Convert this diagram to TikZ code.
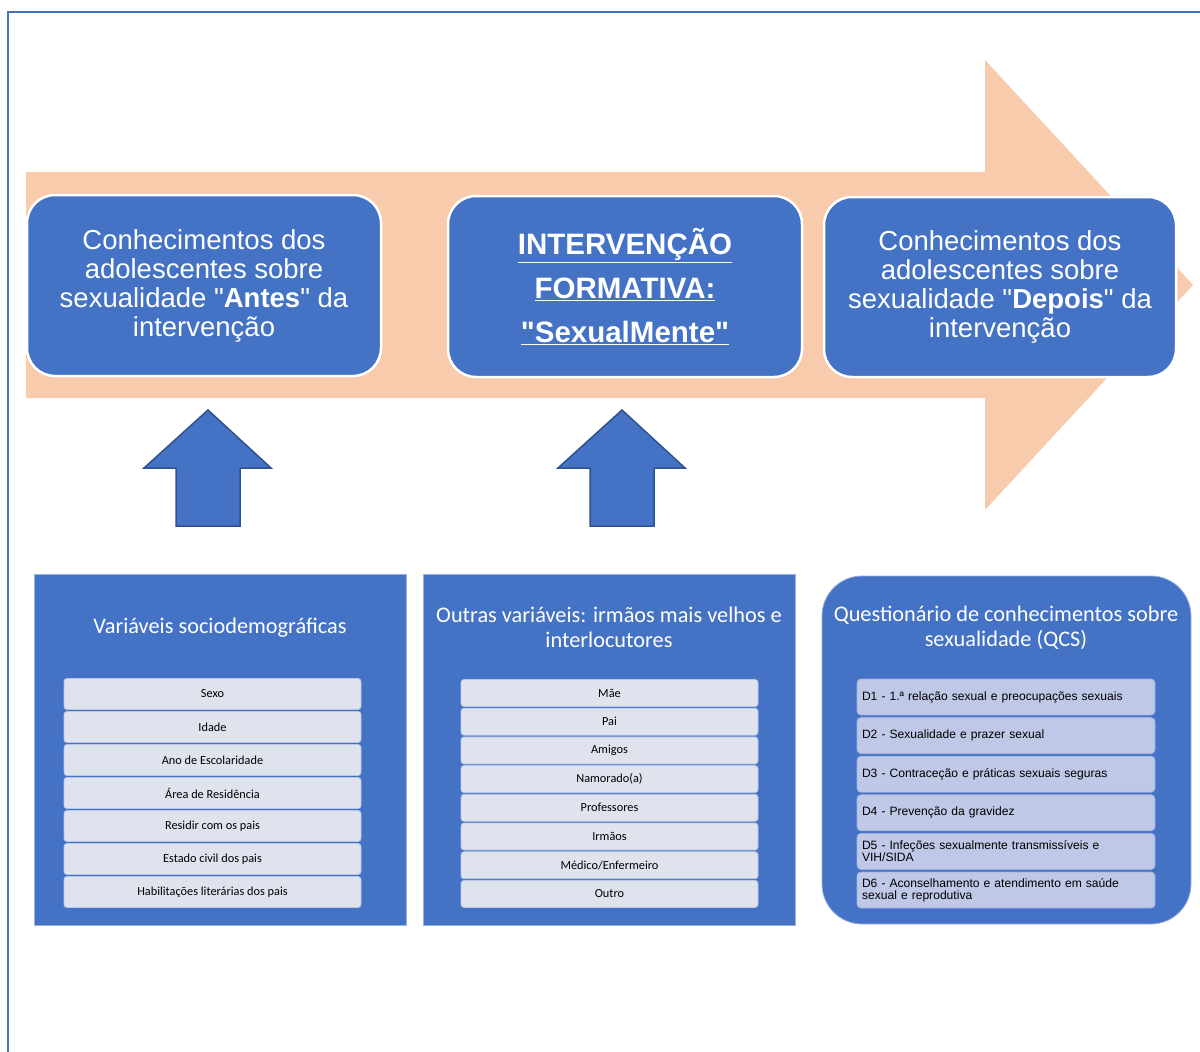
\documentclass[tikz,border=0pt]{standalone}
\usepackage{fontspec}
\setmainfont{Liberation Sans}
\newfontfamily\calibri{Carlito}
\usepackage{tikz}
\definecolor{boxblue}{HTML}{4472C4}
\definecolor{darkblue}{HTML}{2F528F}
\definecolor{peach}{HTML}{F8CBAD}
\definecolor{itemgrey}{HTML}{DEE3EE}
\definecolor{itemlilac}{HTML}{BFC8E6}
\newcommand{\qq}{\textquotedbl}
\tikzset{
  stage/.style={draw=white, line width=2.5pt, fill=boxblue, rounded corners=28pt,
    minimum width=354pt, minimum height=181pt, inner sep=0pt, text=white, align=center,
    font=\fontsize{27.5}{29}\selectfont},
  panel/.style={fill=boxblue, draw=boxblue!55!white, line width=0.8pt,
    minimum width=372pt, minimum height=351pt, inner sep=0pt},
  ptitle/.style={text=white, align=center, font=\calibri\fontsize{22.3}{25}\selectfont},
  item/.style={fill=itemgrey, draw=itemgrey!75!boxblue, line width=0.8pt, rounded corners=3pt,
    minimum width=297pt, inner sep=0pt, font=\calibri\fontsize{12.3}{13}\selectfont},
  qitem/.style={fill=itemlilac, draw=itemlilac!75!boxblue, line width=0.8pt, rounded corners=4pt,
    minimum height=36pt, text width=288pt, inner xsep=5pt, inner ysep=0pt, align=left,
    font=\fontsize{12.1}{12}\selectfont},
  uparrow/.style={fill=boxblue, draw=darkblue, line width=1.5pt},
}

\begin{document}
\begin{tikzpicture}[x=1pt, y=-1pt]
	\useasboundingbox (0,0) rectangle (1200,1052);
	\draw[boxblue, line width=2pt] (8,1052) -- (8,12) -- (1200,12);
	% big arrow behind the stages
	\fill[peach] (26,172) -- (985,172) -- (985,60) -- (1193,285) -- (985,510) -- (985,398) -- (26,398) -- cycle;
	\node[stage] (before) at (204,285.5) {Conhecimentos dos\\adolescentes sobre\\sexualidade \qq\textbf{Antes}\qq{} da\\intervenção};
	\node[stage, font=\bfseries\fontsize{29.5}{44}\selectfont] (training) at (625,286.5) {\underline{INTERVENÇÃO}\\\underline{FORMATIVA:}\\\underline{\qq SexualMente\qq}};
	\node[stage, minimum width=352pt, minimum height=180pt] (after) at (1000,287) {Conhecimentos dos\\adolescentes sobre\\sexualidade \qq\textbf{Depois}\qq{} da\\intervenção};
	\foreach \ax in {0,414}
		\draw[uparrow, xshift=\ax] (208,410) -- (271,468) -- (240,468) -- (240,526) -- (176,526) -- (176,468) -- (144,468) -- cycle;
	% panels
	\node[panel] (vars) at (220,749.5) {};
	\node[ptitle] (varsT) at (220,628) {Variáveis sociodemográficas};
	\foreach \t [count=\i from 0] in {Sexo, Idade, Ano de Escolaridade, Área de Residência, Residir com os pais, Estado civil dos pais, Habilitações literárias dos pais}
		\node[item, minimum height=31pt] (v\i) at (212.5,{694+33*\i}) {\t};
	\node[panel] (other) at (609,749.5) {};
	\node[ptitle] (otherT) at (609,627.5) {Outras variáveis: irmãos mais velhos e\\interlocutores};
	\foreach \t [count=\i from 0] in {Mãe, Pai, Amigos, Namorado(a), Professores, Irmãos, Médico/Enfermeiro, Outro}
		\node[item, minimum height=27pt] (o\i) at (609.5,{693+28.7*\i}) {\t};
	\node[panel, rounded corners=40pt, minimum width=369pt, minimum height=348pt] (qcs) at (1006.5,750) {};
	\node[ptitle] (qcsT) at (1006,627.5) {Questionário de conhecimentos sobre\\sexualidade (QCS)};
	\foreach \t [count=\i from 0] in {{D1 - 1.ª relação sexual e preocupações sexuais}, {D2 - Sexualidade e prazer sexual}, {D3 - Contraceção e práticas sexuais seguras}, {D4 - Prevenção da gravidez}, {D5 - Infeções sexualmente transmissíveis e\\VIH/SIDA}, {D6 - Aconselhamento e atendimento em saúde\\sexual e reprodutiva}}
		\node[qitem] (d\i) at (1006,{697+38.6*\i}) {\t};
\end{tikzpicture}
\end{document}
